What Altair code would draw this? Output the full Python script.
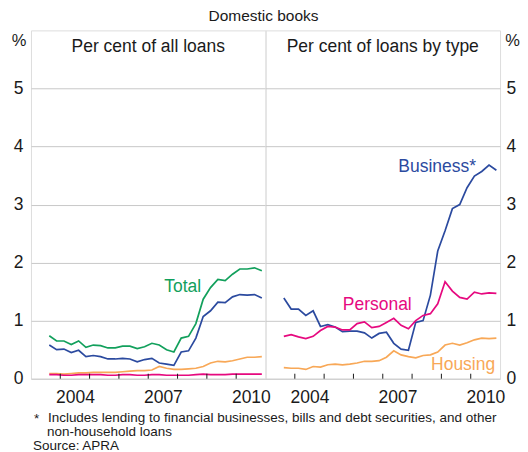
import altair as alt
import pandas as pd

# Quarterly observations, Sep-2003 .. Dec-2010 (plotted mid-quarter)
quarters = [2003.625 + 0.25 * i for i in range(30)]

# Per cent of all loans
total_all = [0.74, 0.65, 0.65, 0.59, 0.65, 0.54, 0.58, 0.57, 0.53, 0.53,
             0.56, 0.56, 0.52, 0.55, 0.61, 0.58, 0.50, 0.46, 0.70, 0.73,
             0.95, 1.37, 1.57, 1.71, 1.69, 1.80, 1.89, 1.89, 1.91, 1.86]
business_all = [0.58, 0.50, 0.51, 0.45, 0.49, 0.38, 0.40, 0.38, 0.34, 0.34,
                0.35, 0.34, 0.29, 0.33, 0.35, 0.27, 0.25, 0.23, 0.46, 0.48,
                0.70, 1.07, 1.17, 1.32, 1.31, 1.41, 1.45, 1.44, 1.45, 1.39]
housing_all = [0.09, 0.09, 0.08, 0.09, 0.10, 0.10, 0.11, 0.11, 0.11, 0.11,
               0.12, 0.13, 0.14, 0.14, 0.15, 0.21, 0.18, 0.16, 0.16, 0.17,
               0.18, 0.21, 0.27, 0.30, 0.29, 0.31, 0.34, 0.37, 0.37, 0.38]
personal_all = [0.07, 0.07, 0.06, 0.06, 0.07, 0.07, 0.07, 0.07, 0.06, 0.06,
                0.07, 0.07, 0.06, 0.06, 0.07, 0.07, 0.06, 0.06, 0.06, 0.06,
                0.07, 0.08, 0.07, 0.07, 0.07, 0.08, 0.08, 0.08, 0.08, 0.08]

# Per cent of loans by type
business = [1.39, 1.20, 1.20, 1.09, 1.17, 0.90, 0.93, 0.89, 0.81, 0.82,
            0.82, 0.79, 0.70, 0.78, 0.80, 0.61, 0.51, 0.49, 0.97, 1.00,
            1.44, 2.20, 2.55, 2.93, 3.00, 3.29, 3.49, 3.57, 3.68, 3.59]
personal = [0.73, 0.76, 0.72, 0.69, 0.73, 0.83, 0.90, 0.89, 0.84, 0.84,
            0.95, 0.98, 0.88, 0.90, 0.97, 1.04, 0.92, 0.86, 1.00, 1.09,
            1.12, 1.29, 1.67, 1.51, 1.40, 1.37, 1.49, 1.46, 1.48, 1.47]
housing = [0.19, 0.18, 0.18, 0.16, 0.21, 0.20, 0.24, 0.25, 0.24, 0.25,
           0.27, 0.30, 0.30, 0.31, 0.37, 0.48, 0.41, 0.38, 0.36, 0.40,
           0.41, 0.46, 0.58, 0.61, 0.58, 0.62, 0.67, 0.70, 0.69, 0.70]

tick_years = [2004, 2005, 2006, 2007, 2008, 2009, 2010]
label_years = [2004, 2007, 2010]
y_ticks = [0, 1, 2, 3, 4, 5]

FONT = "Liberation Sans"
TXT = "#1a1a1a"
BLUE = "#2b4a9f"
GREEN = "#12a05c"
PINK = "#e6097f"
ORANGE = "#f8a857"
W, H = 235, 349
FS = 17.5
FN = 13.5

series_names = ["Total", "Business", "Housing", "Personal"]
color_scale = alt.Scale(domain=series_names, range=[GREEN, BLUE, ORANGE, PINK])


def long_df(d):
    rows = []
    for name, vals in d.items():
        for x, v in zip(quarters, vals):
            rows.append({"x": x, "value": v, "series": name})
    return pd.DataFrame(rows)


left_df = long_df({"Total": total_all, "Business": business_all,
                   "Housing": housing_all, "Personal": personal_all})
right_df = long_df({"Business": business, "Personal": personal, "Housing": housing})
ticks_df = pd.DataFrame({"year": tick_years})


def text_layer(txt, x, y, color=TXT, size=FS, align="center", baseline="middle"):
    return alt.Chart(pd.DataFrame({"label": [txt]})).mark_text(
        font=FONT, fontSize=size, color=color, align=align, baseline=baseline
    ).encode(x=alt.value(x), y=alt.value(y), text="label:N")


def panel(df, orient, title_x, label_pad):
    x = alt.X("x:Q",
              scale=alt.Scale(domain=[2003, 2011], nice=False, zero=False),
              axis=alt.Axis(values=[v + 0.5 for v in label_years],
                            labelExpr="floor(datum.value)", ticks=False,
                            domain=False, grid=False, title=None,
                            labelFontSize=FS, labelPadding=10,
                            labelColor=TXT, labelFont=FONT))
    y = alt.Y("value:Q",
              scale=alt.Scale(domain=[0, 6], nice=False, zero=True),
              axis=alt.Axis(orient=orient, values=y_ticks, grid=True,
                            gridColor="#c8c8c8", gridWidth=1, ticks=False,
                            domain=False, labelPadding=label_pad,
                            labelFontSize=FS, labelColor=TXT,
                            labelFont=FONT, title="%", titleAngle=0,
                            titleFont=FONT, titleFontSize=16.5,
                            titleFontWeight="normal", titleColor=TXT,
                            titleX=title_x, titleY=10, titleAlign="center",
                            titleBaseline="middle"))
    lines = alt.Chart(df).mark_line(strokeWidth=1.7).encode(
        x=x, y=y,
        color=alt.Color("series:N", scale=color_scale, legend=None),
        detail="series:N")
    tks = alt.Chart(ticks_df).mark_rule(color=TXT, strokeWidth=1).encode(
        x=alt.X("year:Q"), y=alt.value(H - 5), y2=alt.value(H))
    return lines, tks


l_lines, l_ticks = panel(left_df, "left", -12.5, 8)
left = alt.layer(
    l_lines, l_ticks,
    text_layer("Per cent of all loans", W / 2, 17),
    text_layer("Total", 152, 257, color=GREEN),
    text_layer("Domestic books", 233, -14, size=15.5),
    text_layer("*", 3, 393, size=FN, align="left", baseline="alphabetic"),
    text_layer("Includes lending to financial businesses, bills and debt securities, and other",
               17, 392, size=FN, align="left", baseline="alphabetic"),
    text_layer("non-household loans", 16, 406, size=FN, align="left", baseline="alphabetic"),
    text_layer("Source: APRA", 2, 420, size=FN, align="left", baseline="alphabetic"),
).properties(width=W, height=H)

r_lines, r_ticks = panel(right_df, "right", 12, 6)
right = alt.layer(
    r_lines, r_ticks,
    text_layer("Per cent of loans by type", W / 2, 17),
    text_layer("Business*", 172, 137, color=BLUE),
    text_layer("Personal", 112, 275, color=PINK),
    text_layer("Housing", 198, 335, color=ORANGE),
).properties(width=W, height=H)

chart = alt.hconcat(left, right, spacing=0).properties(
    bounds="flush",
    padding={"left": 2, "top": 0, "right": 0, "bottom": 0},
).configure_view(stroke="#111", strokeWidth=1).configure(font=FONT)

chart.save("out.html", embed_options={"renderer": "svg", "actions": False})
